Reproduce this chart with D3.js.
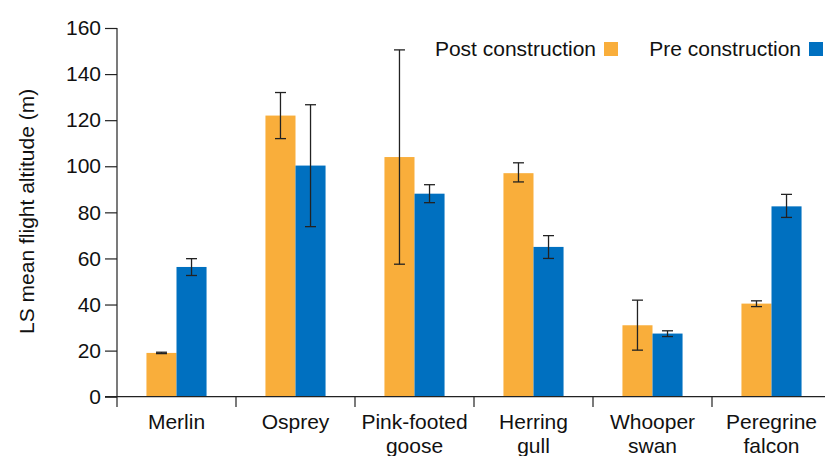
<!DOCTYPE html>
<html>
<head>
<meta charset="utf-8">
<script src="https://cdn.jsdelivr.net/npm/d3@7"></script>
<style>
  html, body { margin: 0; padding: 0; background: #fff; }
  svg { display: block; font-family: "Liberation Sans", Arial, sans-serif; }
</style>
</head>
<body>
<svg id="chart" width="825" height="456"></svg>
<script>
// Species (two-line labels) and least-squares mean flight altitude with error bounds
const species = ["Merlin", "Osprey", "Pink-footed goose", "Herring gull", "Whooper swan", "Peregrine falcon"];
const speciesLines = [["Merlin"], ["Osprey"], ["Pink-footed", "goose"], ["Herring", "gull"], ["Whooper", "swan"], ["Peregrine", "falcon"]];
const seriesNames = ["Post construction", "Pre construction"];
const postMean = [19, 122, 104, 97, 31, 40.4];
const postLow  = [18.7, 112, 57.5, 93.2, 20.2, 39.1];
const postHigh = [19.3, 132, 150.5, 101.5, 41.9, 41.6];
const preMean  = [56.3, 100.3, 88.1, 65, 27.4, 82.6];
const preLow   = [52.6, 73.8, 84.2, 60, 26.1, 77.8];
const preHigh  = [59.9, 126.7, 92, 69.9, 28.6, 87.8];
const yTicks = [0, 20, 40, 60, 80, 100, 120, 140, 160];
const colors = ["#F9AE3B", "#0070C0"];

const svg = d3.select("#chart");
const W = 825, H = 456;
const FS = "21px";
const axisColor = "#222";

const x = d3.scaleBand()
  .domain(species)
  .range([117, 117 + 119 * 6])
  .paddingInner(0).paddingOuter(0);

const y = d3.scaleLinear().domain([0, 160]).range([396.7, 28]);

const x1 = d3.scaleBand().domain(seriesNames).range([0, x.bandwidth()]).paddingInner(0).paddingOuter(0.98);

const rows = species.map((s, i) => ({
  s,
  vals: [
    { k: seriesNames[0], m: postMean[i], lo: postLow[i], hi: postHigh[i] },
    { k: seriesNames[1], m: preMean[i],  lo: preLow[i],  hi: preHigh[i] }
  ]
}));

// Bars
const g = svg.append("g");
const groups = g.selectAll("g.grp").data(rows).join("g")
  .attr("class", "grp")
  .attr("transform", d => `translate(${x(d.s)},0)`);

groups.selectAll("rect").data(d => d.vals).join("rect")
  .attr("x", d => x1(d.k))
  .attr("width", x1.bandwidth())
  .attr("y", d => y(d.m))
  .attr("height", d => y(0) - y(d.m))
  .attr("fill", (d, i) => colors[i]);

// Error bars
const cap = 5.5;
const cx = d => x1(d.k) + x1.bandwidth() / 2;
const eb = groups.selectAll("g.eb").data(d => d.vals).join("g").attr("class", "eb")
  .attr("stroke", axisColor).attr("stroke-width", 1.3);
eb.append("line")
  .attr("x1", cx).attr("x2", cx)
  .attr("y1", d => y(d.lo)).attr("y2", d => y(d.hi));
eb.append("line")
  .attr("x1", d => cx(d) - cap).attr("x2", d => cx(d) + cap)
  .attr("y1", d => y(d.lo)).attr("y2", d => y(d.lo));
eb.append("line")
  .attr("x1", d => cx(d) - cap).attr("x2", d => cx(d) + cap)
  .attr("y1", d => y(d.hi)).attr("y2", d => y(d.hi));

// Y axis
const yAxis = d3.axisLeft(y).tickValues(yTicks).tickSize(12).tickPadding(4);
const ya = svg.append("g").attr("transform", "translate(117,0)").call(yAxis);
ya.select(".domain").remove();
ya.append("line").attr("x1", 0).attr("x2", 0).attr("y1", y(160)).attr("y2", 407)
  .attr("stroke", axisColor).attr("stroke-width", 1.2);
ya.selectAll(".tick line").attr("stroke", axisColor).attr("stroke-width", 1.2);
ya.selectAll(".tick text").attr("fill", "#111").style("font-size", FS)
  .style("font-family", "Liberation Sans, Arial, sans-serif");

// X axis with ticks at category boundaries
const xa = svg.append("g");
xa.append("line").attr("x1", 105).attr("x2", W).attr("y1", y(0)).attr("y2", y(0))
  .attr("stroke", axisColor).attr("stroke-width", 1.2);
xa.selectAll("line.sep").data(species).join("line")
  .attr("class", "sep")
  .attr("x1", d => x(d) + x.bandwidth())
  .attr("x2", d => x(d) + x.bandwidth())
  .attr("y1", y(0)).attr("y2", 407)
  .attr("stroke", axisColor).attr("stroke-width", 1.2);

const labels = xa.selectAll("text.cat").data(species).join("text")
  .attr("class", "cat")
  .attr("text-anchor", "middle")
  .attr("fill", "#111")
  .style("font-size", FS)
  .attr("x", d => x(d) + x.bandwidth() / 2)
  .attr("y", 429);
labels.selectAll("tspan").data((d, i) => speciesLines[i]).join("tspan")
  .attr("x", function () { return d3.select(this.parentNode).attr("x"); })
  .attr("dy", (d, i) => i === 0 ? 0 : 24)
  .text(d => d);

// Y axis title
svg.append("text")
  .attr("transform", `translate(34,${y(80) - 1}) rotate(-90)`)
  .attr("text-anchor", "middle")
  .attr("fill", "#111")
  .style("font-size", FS)
  .text("LS mean flight altitude (m)");

// Legend: label followed by swatch
const legend = svg.append("g");
const legendItems = [
  { name: seriesNames[0], color: colors[0], right: 596 },
  { name: seriesNames[1], color: colors[1], right: 801 }
];
legendItems.forEach(it => {
  legend.append("text").attr("x", it.right).attr("y", 56).attr("text-anchor", "end")
    .attr("fill", "#111").style("font-size", FS).text(it.name);
  legend.append("rect").attr("x", it.right + 8).attr("y", 42).attr("width", 14).attr("height", 14)
    .attr("fill", it.color);
});
</script>
</body>
</html>
